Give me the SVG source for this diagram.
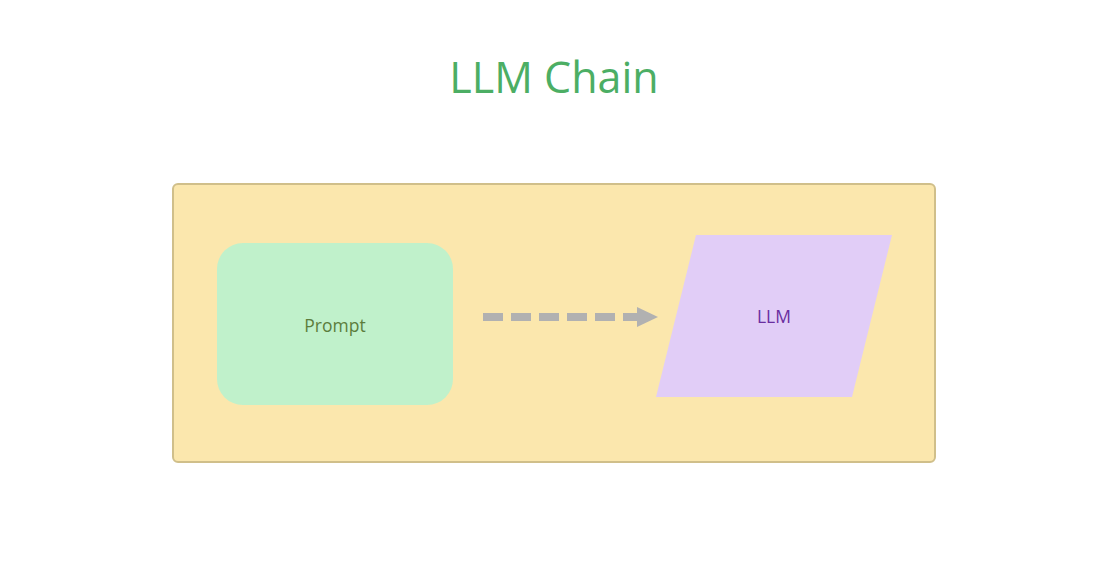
<svg xmlns="http://www.w3.org/2000/svg" width="1112" height="574" viewBox="0 0 1112 574">
<style>
text{font-family:"Open Sans","Noto Sans","Liberation Sans",sans-serif;text-anchor:middle}
.title{font-size:43px;fill:#4cae64}
.lbl{font-size:17.5px}
</style>
<defs>
<marker id="ah" markerWidth="21" markerHeight="20" refX="0" refY="10" orient="auto" markerUnits="userSpaceOnUse">
<path d="M0,0 L21,10 L0,20 Z" fill="#b1b1b1"/>
</marker>
</defs>
<rect width="1112" height="574" fill="#ffffff"/>
<text class="title" x="554" y="93">LLM Chain</text>
<g id="chain">
<rect x="173" y="184" width="762" height="278" rx="5" fill="#fbe7ad" stroke="#d0bf8a" stroke-width="2"/>
</g>
<g id="prompt">
<rect x="217" y="243" width="236" height="162" rx="26" fill="#c0f1cb"/>
<text class="lbl" x="335" y="332" fill="#5c7d3c">Prompt</text>
</g>
<g id="llm">
<polygon points="696,235 892,235 852,397 656,397" fill="#e1cdf7"/>
<text class="lbl" x="774" y="323" fill="#6a2ea0">LLM</text>
</g>
<g id="connectors">
<line x1="483" y1="317" x2="637" y2="317" stroke="#b1b1b1" stroke-width="8" stroke-dasharray="20,8" marker-end="url(#ah)"/>
</g>
</svg>
